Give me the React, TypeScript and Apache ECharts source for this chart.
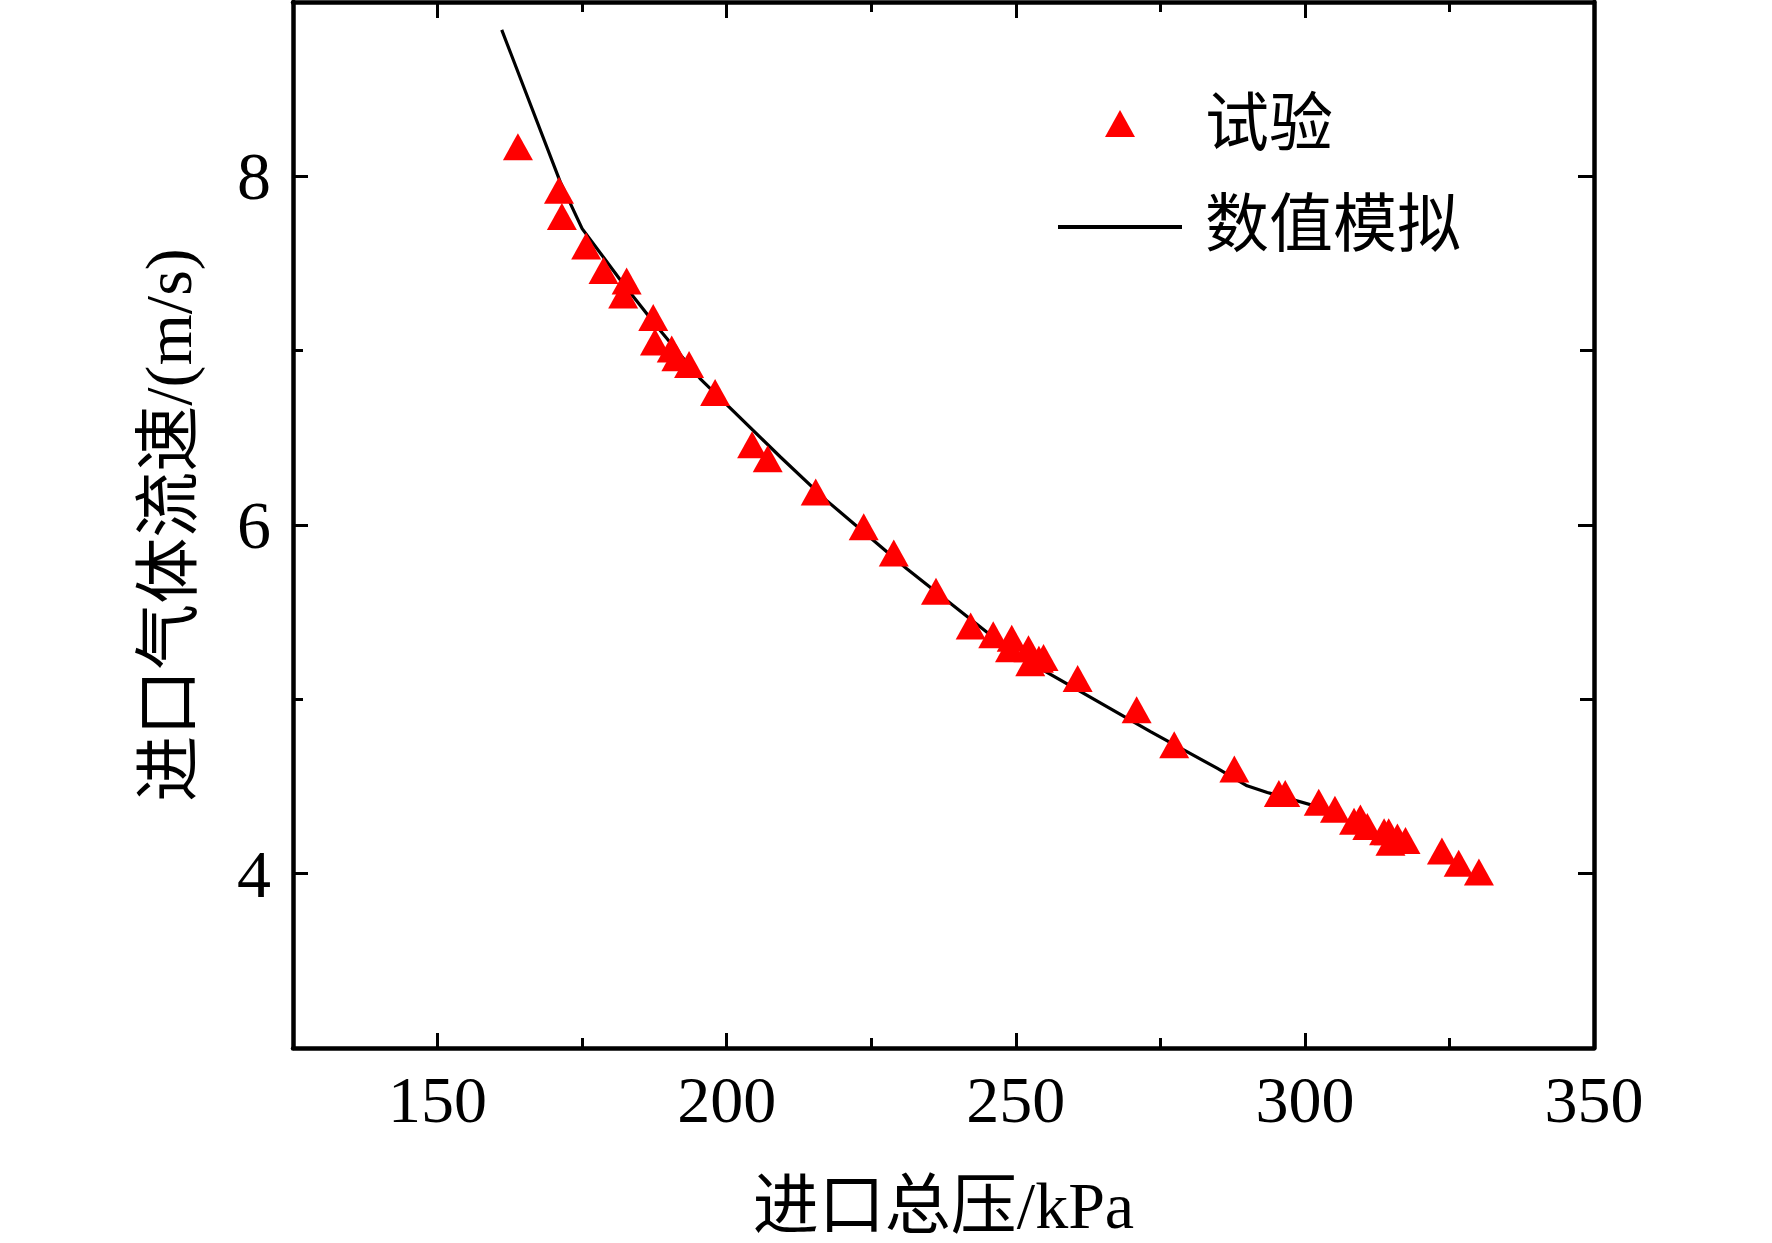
import React, { useEffect, useRef } from "react";
import * as echarts from "echarts";

// Experimental data (试验)
const expPressure = [
  163.9, 171.0, 171.5, 175.7, 178.7, 182.7, 182.1, 187.3, 187.6, 190.5, 191.3, 193.5,
  198.0, 204.4, 207.1, 215.4, 223.7, 228.9, 236.2, 242.2, 246.1, 249.3, 249.0, 252.2,
  252.5, 254.0, 254.8, 260.7, 270.9, 277.4, 287.8, 295.5, 296.6, 302.4, 305.2, 308.5,
  309.6, 310.8, 313.7, 314.5, 314.8, 316.0, 317.4, 323.7, 326.6, 330.1,
];
const expVelocity = [
  8.17, 7.92, 7.77, 7.60, 7.46, 7.40, 7.32, 7.19, 7.05, 7.01, 6.96, 6.92,
  6.76, 6.46, 6.38, 6.19, 5.99, 5.84, 5.62, 5.42, 5.37, 5.35, 5.29, 5.29,
  5.21, 5.23, 5.24, 5.12, 4.94, 4.74, 4.60, 4.46, 4.46, 4.41, 4.37, 4.30,
  4.32, 4.27, 4.24, 4.24, 4.18, 4.21, 4.19, 4.13, 4.06, 4.01,
];

// Numerical simulation (数值模拟)
const simPressure = [161.1, 171.2, 175.0, 182.2, 187.9, 195.4, 209.3, 217.3, 231.1, 249.6, 273.3, 284.8, 290.0, 293.5, 304.4];
const simVelocity = [8.84, 7.97, 7.70, 7.38, 7.14, 6.84, 6.39, 6.14, 5.75, 5.265, 4.815, 4.605, 4.504, 4.466, 4.363];

// Axis ticks
const xMajorTicks = [150, 200, 250, 300, 350];
const xMinorTicks = [175, 225, 275, 325];
const yMajorTicks = [4, 6, 8];
const yMinorTicks = [5, 7];

const legendNames = ["试验", "数值模拟"];
const xTitle = "进口总压/kPa";
const yTitle = "进口气体流速/(m/s)";

export default function App() {
  const ref = useRef<HTMLDivElement>(null);

  useEffect(() => {
    const el = ref.current;
    if (!el) return;
    const chart = echarts.init(el, null, { renderer: "svg" });
    const font = "'Liberation Serif', 'Noto Sans CJK SC', serif";
    const X_MIN = 125, X_MAX = 350, Y_MIN = 3, Y_MAX = 9;
    const lineStyle = { color: "#000", width: 4.5 };

    const xAxisBase = (pos: "bottom" | "top", ticks: number[], len: number, main: boolean, labels: boolean) => ({
      type: "value",
      position: pos,
      min: X_MIN,
      max: X_MAX,
      interval: 25,
      axisLine: { show: main, onZero: false, lineStyle },
      axisTick: { show: true, inside: true, length: len, customValues: ticks, lineStyle: { color: "#000", width: 3 } },
      axisLabel: labels
        ? { show: true, customValues: xMajorTicks, margin: 18, color: "#000", fontSize: 66, fontFamily: font }
        : { show: false },
      splitLine: { show: false },
      ...(labels
        ? {
            name: xTitle,
            nameLocation: "middle",
            nameGap: 124,
            nameTextStyle: { color: "#000", fontSize: 66, fontFamily: font },
          }
        : {}),
    });

    const yAxisBase = (pos: "left" | "right", ticks: number[], len: number, main: boolean, labels: boolean) => ({
      type: "value",
      position: pos,
      min: Y_MIN,
      max: Y_MAX,
      interval: 1,
      axisLine: { show: main, onZero: false, lineStyle },
      axisTick: { show: true, inside: true, length: len, customValues: ticks, lineStyle: { color: "#000", width: 3 } },
      axisLabel: labels
        ? { show: true, customValues: yMajorTicks, margin: 22, color: "#000", fontSize: 68, fontFamily: font }
        : { show: false },
      splitLine: { show: false },
      ...(labels
        ? {
            name: yTitle,
            nameLocation: "middle",
            nameRotate: 90,
            nameGap: 92,
            nameTextStyle: { color: "#000", fontSize: 66, fontFamily: font },
          }
        : {}),
    });

    const option = {
      animation: false,
      backgroundColor: "#fff",
      grid: { left: 293, right: 178, top: 2, bottom: 195, containLabel: false },
      xAxis: [
        xAxisBase("bottom", xMajorTicks, 15, true, true),
        xAxisBase("bottom", xMinorTicks, 10, false, false),
        xAxisBase("top", xMajorTicks, 16, true, false),
        xAxisBase("top", xMinorTicks, 10, false, false),
      ],
      yAxis: [
        yAxisBase("left", yMajorTicks, 15, true, true),
        yAxisBase("left", yMinorTicks, 10, false, false),
        yAxisBase("right", yMajorTicks, 16, true, false),
        yAxisBase("right", yMinorTicks, 14, false, false),
      ],
      series: [
        {
          name: legendNames[1],
          type: "line",
          xAxisIndex: 0,
          yAxisIndex: 0,
          data: simPressure.map((p, i) => [p, simVelocity[i]]),
          showSymbol: false,
          symbol: "none",
          lineStyle: { color: "#000", width: 3.2 },
          z: 2,
        },
        {
          name: legendNames[0],
          type: "scatter",
          xAxisIndex: 0,
          yAxisIndex: 0,
          data: expPressure.map((p, i) => [p, expVelocity[i]]),
          symbol: "triangle",
          symbolSize: [30, 27],
          itemStyle: { color: "#ff0000", opacity: 1 },
          z: 3,
        },
      ],
      graphic: [
        {
          type: "polygon",
          shape: { points: [[1120, 110], [1135, 137], [1105, 137]] },
          style: { fill: "#ff0000" },
        },
        {
          type: "text",
          x: 1205,
          y: 123,
          style: { text: legendNames[0], fill: "#000", fontSize: 64, fontFamily: font, verticalAlign: "middle", align: "left" },
        },
        {
          type: "line",
          shape: { x1: 1058, y1: 227, x2: 1182, y2: 227 },
          style: { stroke: "#000", lineWidth: 4 },
        },
        {
          type: "text",
          x: 1205,
          y: 224,
          style: { text: legendNames[1], fill: "#000", fontSize: 64, fontFamily: font, verticalAlign: "middle", align: "left" },
        },
      ],
    };

    chart.setOption(option as any);
    return () => chart.dispose();
  }, []);

  return (
    <div
      ref={ref}
      style={{ position: "absolute", left: 0, top: 0, width: 1772, height: 1243, background: "#fff" }}
    />
  );
}
